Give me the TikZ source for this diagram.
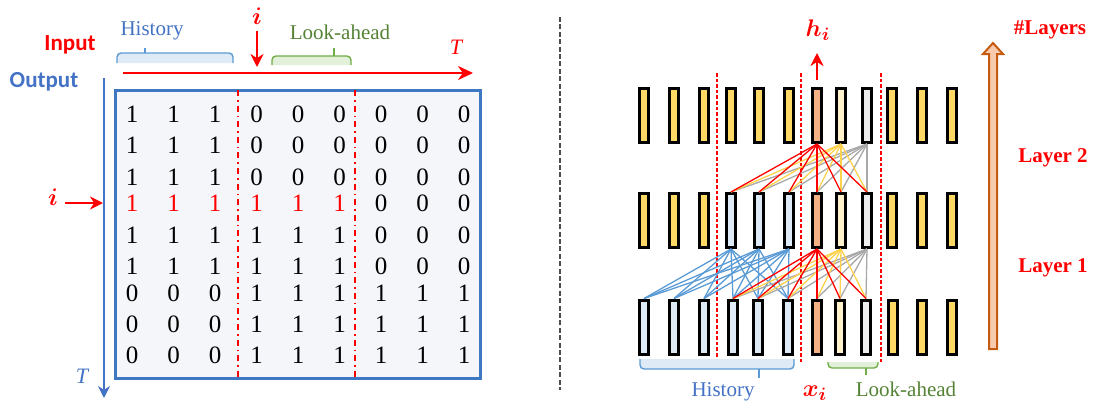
\documentclass[tikz,border=0pt]{standalone}
\usepackage{amsmath}
\usepackage{fontspec}
\setmainfont{Liberation Serif}
\newfontfamily\labelsans{Carlito}
\usepackage{xcolor}
\usetikzlibrary{arrows.meta}

\definecolor{yel}{HTML}{FFD966}
\definecolor{yelline}{HTML}{FFD24D}
\definecolor{hist}{HTML}{DEEBF7}
\definecolor{cur}{HTML}{F4B183}
\definecolor{lookA}{HTML}{FFF2CC}
\definecolor{lookB}{HTML}{EDEDED}
\definecolor{histline}{HTML}{5B9BD5}
\definecolor{grayline}{HTML}{A8A8A8}
\definecolor{outblue}{HTML}{4472C4}
\definecolor{boxblue}{HTML}{3E78C2}
\definecolor{boxfill}{HTML}{F4F6FA}
\definecolor{lagreen}{HTML}{548235}
\definecolor{laedge}{HTML}{70AD47}
\definecolor{lafill}{HTML}{E2F0D9}
\definecolor{layedge}{HTML}{C55A11}
\definecolor{layfill}{HTML}{F8CBAD}

\tikzset{
  bar/.style={draw=black, line width=1.5pt, minimum width=4.5pt,
              minimum height=27pt, inner sep=0pt},
  digit/.style={font=\fontsize{12.5}{14}\selectfont, inner sep=0pt},
  conn/.style={line width=0.65pt},
  cutline/.style={red, line width=0.6pt, dash pattern=on 1.8pt off 1pt},
  hbrace/.style={draw=histline, fill=hist, line width=0.7pt, rounded corners=2pt},
  lbrace/.style={draw=laedge, fill=lafill, line width=0.7pt, rounded corners=2pt},
  note/.style={font=\fontsize{10.5}{12}\selectfont},
  layer/.style={red, font=\bfseries\fontsize{10.5}{12}\selectfont},
  mathlbl/.style={red, font=\fontsize{13}{15}\selectfont},
}

\begin{document}
\begin{tikzpicture}[x=0.5pt,y=-0.5pt]
\useasboundingbox (0,0) rectangle (1094,408);

% ---- left: mask matrix ----
\node[red, font=\labelsans\bfseries\fontsize{11.5}{13}\selectfont] (input) at (70,45) {Input};
\node[outblue, font=\labelsans\bfseries\fontsize{11.5}{13}\selectfont] (output) at (44,82) {Output};

\coordinate (inS) at (123,73);
\coordinate (inE) at (473,73);
\draw[red, line width=1.3pt, -{Stealth[length=7.5pt,width=7pt]}] (inS) -- (inE);
\node[red, font=\itshape\fontsize{11}{12}\selectfont] (inT) at (456,47) {T};

\coordinate (outS) at (104,78);
\coordinate (outE) at (104,398);
\draw[outblue, line width=1.4pt, -{Stealth[length=6pt,width=6pt]}] (outS) -- (outE);
\node[outblue, font=\itshape\fontsize{11}{12}\selectfont] (outT) at (82,376) {T};

\filldraw[hbrace] (117,63) -- (117,53) -- (233,53) -- (233,63);
\draw[histline, line width=0.7pt] (145,53) -- (145,48);
\node[note, outblue] (histtop) at (152,31) {History};
\filldraw[lbrace] (272,65) -- (272,56) -- (351,56) -- (351,65);
\draw[laedge, line width=0.7pt] (334,56) -- (334,48);
\node[note, lagreen] (latop) at (340,32) {Look-ahead};

\node[mathlbl] (itop) at (257,16) {$\boldsymbol{i}$};
\coordinate (itip) at (257,67);
\draw[red, line width=1.3pt, -{Stealth[length=6.5pt,width=6.5pt]}] (itop) -- (itip);
\node[mathlbl] (ileft) at (53,197) {$\boldsymbol{i}$};
\coordinate (itip2) at (103,203);
\draw[red, line width=1.3pt, -{Stealth[length=6.5pt,width=6.5pt]}] (ileft.east |- itip2) -- (itip2);

\draw[boxblue, fill=boxfill, line width=1.5pt] (115,90) rectangle (480,378);
\foreach \v [count=\c from 0] in {1,1,1,0,0,0,0,0,0}
  \node[digit] (r1-\c) at (132+41.5*\c,114) {\v};
\foreach \v [count=\c from 0] in {1,1,1,0,0,0,0,0,0}
  \node[digit] (r2-\c) at (132+41.5*\c,145) {\v};
\foreach \v [count=\c from 0] in {1,1,1,0,0,0,0,0,0}
  \node[digit] (r3-\c) at (132+41.5*\c,177) {\v};
\foreach \v/\col [count=\c from 0] in {1/red,1/red,1/red,1/red,1/red,1/red,0/black,0/black,0/black}
  \node[digit, \col] (r4-\c) at (132+41.5*\c,203) {\v};
\foreach \v [count=\c from 0] in {1,1,1,1,1,1,0,0,0}
  \node[digit] (r5-\c) at (132+41.5*\c,235) {\v};
\foreach \v [count=\c from 0] in {1,1,1,1,1,1,0,0,0}
  \node[digit] (r6-\c) at (132+41.5*\c,266) {\v};
\foreach \v [count=\c from 0] in {0,0,0,1,1,1,1,1,1}
  \node[digit] (r7-\c) at (132+41.5*\c,293) {\v};
\foreach \v [count=\c from 0] in {0,0,0,1,1,1,1,1,1}
  \node[digit] (r8-\c) at (132+41.5*\c,324) {\v};
\foreach \v [count=\c from 0] in {0,0,0,1,1,1,1,1,1}
  \node[digit] (r9-\c) at (132+41.5*\c,355) {\v};
\draw[red, line width=0.8pt, dash dot] (238,90) -- (238,378);
\draw[red, line width=0.8pt, dash dot] (355,90) -- (355,378);

% ---- divider ----
\draw[black!70, line width=0.8pt, dash pattern=on 2.5pt off 1.2pt] (560,17) -- (560,390);

% ---- right: layers ----
\draw[cutline] (717,73) -- (717,360);
\draw[cutline] (801,73) -- (801,364);
\draw[cutline] (881,73) -- (881,364);

% top row
\node[bar, fill=yel]   (t0)  at (644,115.5) {};
\node[bar, fill=yel]   (t1)  at (674,115.5) {};
\node[bar, fill=yel]   (t2)  at (704,115.5) {};
\node[bar, fill=yel]   (t3)  at (731,115.5) {};
\node[bar, fill=yel]   (t4)  at (759,115.5) {};
\node[bar, fill=yel]   (t5)  at (789,115.5) {};
\node[bar, fill=cur]   (t6)  at (817,115.5) {};
\node[bar, fill=lookA] (t7)  at (841,115.5) {};
\node[bar, fill=lookB] (t8)  at (867,115.5) {};
\node[bar, fill=yel]   (t9)  at (892,115.5) {};
\node[bar, fill=yel]   (t10) at (922,115.5) {};
\node[bar, fill=yel]   (t11) at (952,115.5) {};
% middle row
\node[bar, fill=yel]   (m0)  at (644,220.5) {};
\node[bar, fill=yel]   (m1)  at (674,220.5) {};
\node[bar, fill=yel]   (m2)  at (704,220.5) {};
\node[bar, fill=hist]  (m3)  at (731,220.5) {};
\node[bar, fill=hist]  (m4)  at (759,220.5) {};
\node[bar, fill=hist]  (m5)  at (789,220.5) {};
\node[bar, fill=cur]   (m6)  at (817,220.5) {};
\node[bar, fill=lookA] (m7)  at (841,220.5) {};
\node[bar, fill=lookB] (m8)  at (867,220.5) {};
\node[bar, fill=yel]   (m9)  at (892,220.5) {};
\node[bar, fill=yel]   (m10) at (922,220.5) {};
\node[bar, fill=yel]   (m11) at (952,220.5) {};
% bottom row
\node[bar, fill=hist]  (b0)  at (644,327) {};
\node[bar, fill=hist]  (b1)  at (674,327) {};
\node[bar, fill=hist]  (b2)  at (704,327) {};
\node[bar, fill=hist]  (b3)  at (733,327) {};
\node[bar, fill=hist]  (b4)  at (758,327) {};
\node[bar, fill=hist]  (b5)  at (788,327) {};
\node[bar, fill=cur]   (b6)  at (817,327) {};
\node[bar, fill=lookA] (b7)  at (840,327) {};
\node[bar, fill=lookB] (b8)  at (866,327) {};
\node[bar, fill=yel]   (b9)  at (893,327) {};
\node[bar, fill=yel]   (b10) at (922,327) {};
\node[bar, fill=yel]   (b11) at (952,327) {};

% layer 2 links
\foreach \k in {3,...,8} {
  \draw[conn, grayline] (t8.south) -- (m\k.north);
  \draw[conn, yelline] (t7.south) -- (m\k.north);
}
\foreach \k in {3,...,8}
  \draw[conn, red] (t6.south) -- (m\k.north);
% layer 1 links
\foreach \s in {3,4,5}
  \foreach \k in {0,...,5}
    \draw[conn, histline] (m\s.south) -- (b\k.north);
\foreach \k in {3,...,8} {
  \draw[conn, grayline] (m8.south) -- (b\k.north);
  \draw[conn, yelline] (m7.south) -- (b\k.north);
}
\foreach \k in {3,...,8}
  \draw[conn, red] (m6.south) -- (b\k.north);

\node[mathlbl] (hi) at (818,30) {$\boldsymbol{h_i}$};
\coordinate (hiTip) at (817,53);
\draw[red, line width=1.3pt, -{Stealth[length=6.5pt,width=6.5pt]}] ([yshift=3.5pt]t6.north) -- (hiTip);
\node[mathlbl] (xi) at (815,393) {$\boldsymbol{x_i}$};

\filldraw[hbrace] (640,359) -- (640,369) -- (794,369) -- (794,359);
\draw[histline, line width=0.7pt] (759,369) -- (759,378);
\node[note, outblue] (histbot) at (723,392) {History};
\filldraw[lbrace] (828,362) -- (828,368) -- (878,368) -- (878,362);
\draw[laedge, line width=0.7pt] (866,368) -- (866,375);
\node[note, lagreen] (labot) at (906,389) {Look-ahead};

\filldraw[layedge, fill=layfill, line width=1pt]
  (989,349) -- (997,349) -- (997,54) -- (1003,54) -- (993,43) -- (983,54) -- (989,54) -- cycle;
\node[layer] (nlay) at (1050,30) {\#Layers};
\node[layer] (lay2) at (1053,158) {Layer 2};
\node[layer] (lay1) at (1053,268) {Layer 1};
\end{tikzpicture}
\end{document}
